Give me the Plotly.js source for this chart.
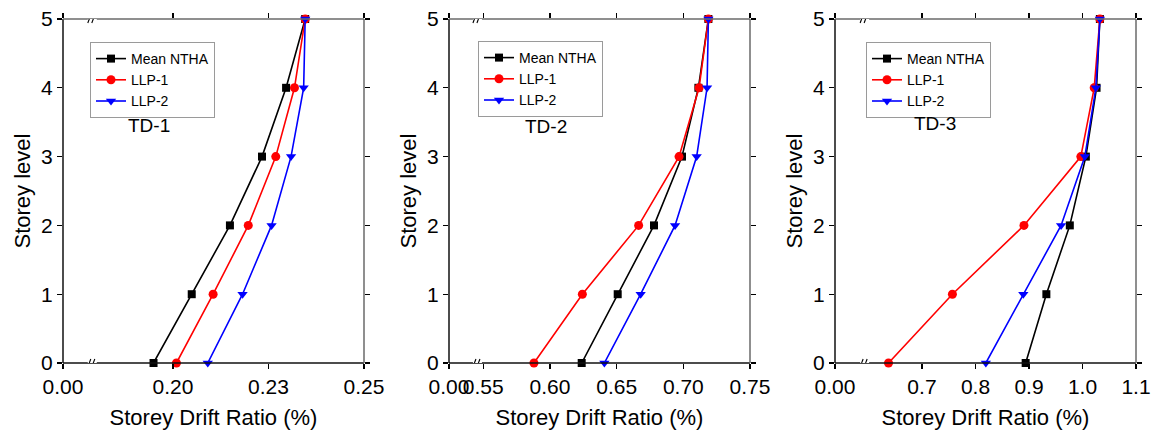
<!DOCTYPE html>
<html>
<head>
<meta charset="utf-8">
<script src="https://cdn.plot.ly/plotly-3.0.1.min.js"></script>
<style>html,body{margin:0;padding:0;background:#fff;}#chart{width:1151px;height:432px;}</style>
</head>
<body>
<div id="chart"></div>
<script>
// ---- data ----
const levels = [0, 1, 2, 3, 4, 5];
const seriesNames = ["Mean NTHA", "LLP-1", "LLP-2"];
const panelLabels = ["TD-1", "TD-2", "TD-3"];

const td1Mean = [0.1949, 0.2049, 0.2149, 0.2233, 0.2296, 0.2346];
const td1Llp1 = [0.2009, 0.2105, 0.2197, 0.2269, 0.2318, 0.2346];
const td1Llp2 = [0.2091, 0.2182, 0.2258, 0.2309, 0.2342, 0.2346];

const td2Mean = [0.6238, 0.6508, 0.6780, 0.6990, 0.7113, 0.7188];
const td2Llp1 = [0.5880, 0.6243, 0.6665, 0.6968, 0.7118, 0.7188];
const td2Llp2 = [0.6408, 0.6680, 0.6938, 0.7100, 0.7178, 0.7188];

const td3Mean = [0.8938, 0.9325, 0.9763, 1.0063, 1.0263, 1.0325];
const td3Llp1 = [0.6375, 0.7569, 0.8906, 0.9969, 1.0219, 1.0325];
const td3Llp2 = [0.8194, 0.8894, 0.9600, 1.0044, 1.0250, 1.0325];

// broken x axes: left edge shows "0.00", then a break, then the range
const td1Ticks = [0.1712, 0.200, 0.225, 0.250];
const td1TickText = ["0.00", "0.20", "0.23", "0.25"];
const td2Ticks = [0.5243, 0.55, 0.60, 0.65, 0.70, 0.75];
const td2TickText = ["0.00", "0.55", "0.60", "0.65", "0.70", "0.75"];
const td3Ticks = [0.5375, 0.7, 0.8, 0.9, 1.0, 1.1];
const td3TickText = ["0.00", "0.7", "0.8", "0.9", "1.0", "1.1"];
const breakAt = [0.1790, 0.5460, 0.5938];

const yTicks = [0, 1, 2, 3, 4, 5];

// ---- layout geometry ----
const W = 1151, H = 432;
const FONT = 'Arial, "Liberation Sans", sans-serif';
const panelsPx = [[63, 364], [449, 750], [835, 1136]];
const yDom = [(H - 363) / H, (H - 19) / H];
const legendPx = [[90, 42], [478, 41], [866, 42]];
const labelPx = [[149, 125], [546, 126], [935, 123]];

const panelData = [
  [td1Mean, td1Llp1, td1Llp2],
  [td2Mean, td2Llp1, td2Llp2],
  [td3Mean, td3Llp1, td3Llp2]
];
const panelTicks = [td1Ticks, td2Ticks, td3Ticks];
const panelTickText = [td1TickText, td2TickText, td3TickText];

const colors = ["#000000", "#ff0000", "#0000ff"];
const symbols = ["square", "circle", "triangle-down"];
const sizes = [8, 9, 9];

const traces = [];
const layout = {
  width: W, height: H,
  margin: {l: 0, r: 0, t: 0, b: 0},
  paper_bgcolor: "#ffffff",
  plot_bgcolor: "rgba(0,0,0,0)",
  font: {family: FONT, color: "#000"},
  shapes: [],
  annotations: []
};

for (let p = 0; p < 3; p++) {
  const n = p + 1;
  const xs = n === 1 ? "" : String(n);
  const xk = "xaxis" + xs, yk = "yaxis" + xs;
  const dom = [panelsPx[p][0] / W, panelsPx[p][1] / W];
  const ticks = panelTicks[p];
  const range = [ticks[0], ticks[ticks.length - 1]];
  const legName = n === 1 ? "legend" : "legend" + n;

  for (let s = 0; s < 3; s++) {
    traces.push({
      type: "scatter", mode: "lines+markers",
      x: panelData[p][s], y: levels,
      xaxis: "x" + xs, yaxis: "y" + xs,
      name: seriesNames[s],
      legend: legName,
      cliponaxis: false,
      line: {color: colors[s], width: 1.6},
      marker: {color: colors[s], symbol: symbols[s], size: sizes[s], line: {width: 0}}
    });
  }

  layout[xk] = {
    domain: dom, anchor: "y" + xs, range: range,
    tickmode: "array", tickvals: ticks, ticktext: panelTickText[p],
    tickangle: 0,
    ticks: "outside", ticklen: 5, tickwidth: 1.2, tickcolor: "#000",
    showline: false, mirror: "ticks",
    showgrid: false, zeroline: false,
    tickfont: {family: FONT, size: 21, color: "#000"},
    title: {text: "Storey Drift Ratio (%)", font: {family: FONT, size: 22, color: "#000"}, standoff: 12}
  };
  layout[yk] = {
    domain: yDom, anchor: "x" + xs, range: [0, 5],
    tickmode: "array", tickvals: yTicks,
    ticks: "outside", ticklen: 5, tickwidth: 1.2, tickcolor: "#000",
    showline: false, mirror: "ticks",
    showgrid: false, zeroline: false,
    tickfont: {family: FONT, size: 21, color: "#000"},
    title: {text: "Storey level", font: {family: FONT, size: 22, color: "#000"}, standoff: 4}
  };

  layout[legName] = {
    x: legendPx[p][0] / W, y: 1 - legendPx[p][1] / H,
    xanchor: "left", yanchor: "top",
    bgcolor: "#ffffff", bordercolor: "#9a9a9a", borderwidth: 1,
    font: {family: FONT, size: 14, color: "#000"},
    tracegroupgap: 0, itemwidth: 30
  };

  layout.annotations.push({
    text: panelLabels[p], xref: "paper", yref: "paper",
    x: labelPx[p][0] / W, y: 1 - labelPx[p][1] / H,
    xanchor: "center", yanchor: "middle", showarrow: false,
    font: {family: FONT, size: 19, color: "#000"}
  });

  // plot frame: left/bottom dark, top/right grey
  const xd = "x" + xs + " domain", yd = "y" + xs + " domain";
  [[0, 0, 0, 1, "#111111"], [0, 1, 0, 0, "#111111"], [1, 1, 0, 1, "#6a6a6a"], [0, 1, 1, 1, "#6a6a6a"]]
    .forEach(function (f) {
      layout.shapes.push({
        type: "line", layer: "above", xref: xd, yref: yd,
        x0: f[0], x1: f[1], y0: f[2], y1: f[3],
        line: {color: f[4], width: 1.5}
      });
    });

  // axis break marks "//" on bottom and top
  [0, 5].forEach(function (yv) {
    layout.shapes.push({
      type: "rect", layer: "above", xref: "x" + xs, yref: "y" + xs,
      xsizemode: "pixel", xanchor: breakAt[p], x0: -5, x1: 4,
      ysizemode: "pixel", yanchor: yv, y0: -1.9, y1: 1.9,
      fillcolor: "#ffffff", line: {width: 0}
    });
    [[-5, -2], [-1, 2]].forEach(function (seg) {
      layout.shapes.push({
        type: "line", layer: "above", xref: "x" + xs, yref: "y" + xs,
        xsizemode: "pixel", xanchor: breakAt[p], x0: seg[0], x1: seg[1],
        ysizemode: "pixel", yanchor: yv, y0: -4, y1: 4,
        line: {color: "#000", width: 1.1}
      });
    });
  });
}

Plotly.newPlot("chart", traces, layout, {displayModeBar: false, staticPlot: true});
</script>
</body>
</html>
